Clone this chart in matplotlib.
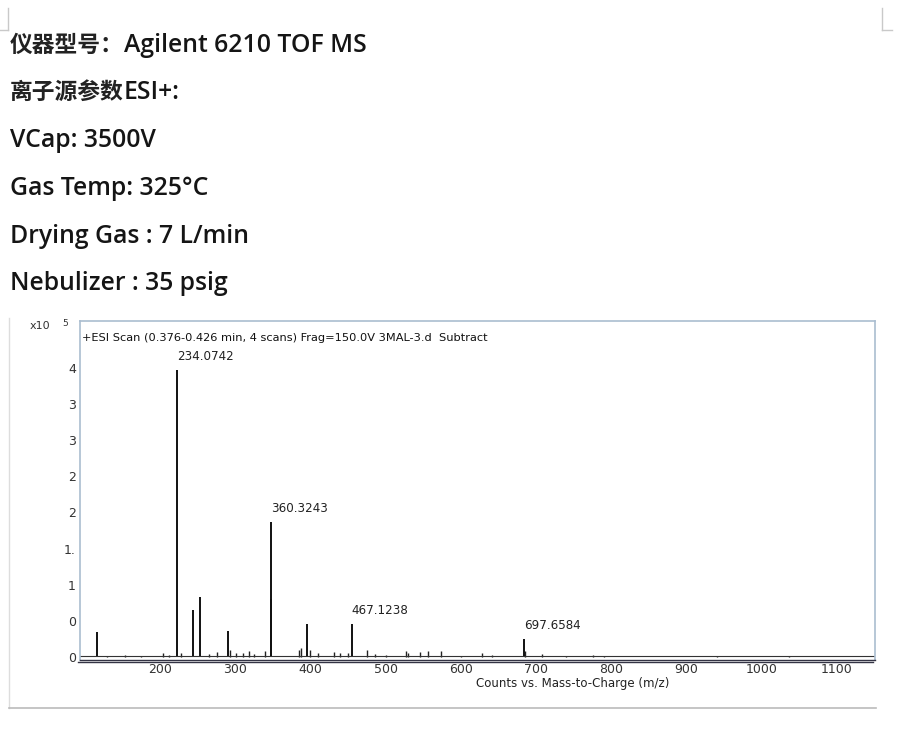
import matplotlib.pyplot as plt
from matplotlib.lines import Line2D

plt.rcParams['font.family'] = ['Noto Sans CJK SC', 'DejaVu Sans']

# header text above the spectrum: (Chinese part, Latin part)
info_cjk = ['仪器型号：', '离子源参数', '', '', '', '']
info_latin = ['Agilent 6210 TOF MS', 'ESI+:', 'VCap: 3500V', 'Gas Temp: 325°C',
              'Drying Gas : 7 L/min', 'Nebulizer : 35 psig']

# spectrum peaks (m/z position on the drawn axis, counts x10^5)
peak_mz = [115.8, 222.2, 244.3, 253.6, 290.4, 347.2, 347.8, 395.1, 455.0, 684.1]
peak_h = [0.35, 3.97, 0.65, 0.83, 0.36, 1.87, 0.80, 0.46, 0.46, 0.25]
small_mz = [130.0, 153.4, 175.0, 204.0, 212.0, 228.0, 265.0, 275.4, 292.5, 301.0, 310.0,
            318.4, 325.0, 339.6, 384.9, 387.0, 399.0, 410.0, 431.4, 439.4, 450.0, 474.9,
            486.0, 500.0, 527.2, 530.0, 545.8, 556.4, 573.3, 600.0, 627.9, 641.5, 686.0,
            707.6, 740.0, 775.9, 790.0, 940.8, 1036.6]
small_h = [0.02, 0.03, 0.02, 0.06, 0.03, 0.05, 0.04, 0.07, 0.10, 0.06, 0.05,
           0.08, 0.04, 0.08, 0.10, 0.12, 0.10, 0.05, 0.07, 0.05, 0.05, 0.10,
           0.04, 0.03, 0.08, 0.05, 0.07, 0.08, 0.08, 0.02, 0.06, 0.03, 0.08,
           0.04, 0.02, 0.03, 0.02, 0.02, 0.02]
label_mz = [222.2, 347.2, 455.0, 684.1]
label_h = [3.97, 1.87, 0.46, 0.25]
label_txt = ['234.0742', '360.3243', '467.1238', '697.6584']

ytick_vals = [0, 0.5, 1, 1.5, 2, 2.5, 3, 3.5, 4]
ytick_txt = ['0', '0', '1', '1.', '2', '2', '3', '3', '4']
xtick_vals = [200, 300, 400, 500, 600, 700, 800, 900, 1000, 1100]

W, H = 900, 743
fig = plt.figure(figsize=(9, 7.43), dpi=100)

for i, (c, t) in enumerate(zip(info_cjk, info_latin)):
    y = 1 - (45 + i * 47.8) / H
    x0 = 10
    if c:
        fig.text(x0 / W, y, c, fontsize=16.4, fontweight='bold',
                 family='Noto Sans CJK SC', color='#222222', va='center', ha='left')
        x0 = 124
    fig.text(x0 / W, y, t, fontsize=17.8, fontweight='semibold',
             family=['Open Sans', 'DejaVu Sans'],
             color='#151515', va='center', ha='left')

# page corner marks and image frame
grey = '#c9c9c9'
fig.add_artist(Line2D([8 / W, 8 / W], [1 - 8 / H, 1 - 30 / H], color=grey, lw=1))
fig.add_artist(Line2D([0, 8 / W], [1 - 30 / H, 1 - 30 / H], color=grey, lw=1))
fig.add_artist(Line2D([882 / W, 882 / W], [1 - 8 / H, 1 - 30 / H], color=grey, lw=1))
fig.add_artist(Line2D([882 / W, 892 / W], [1 - 30 / H, 1 - 30 / H], color=grey, lw=1))
fig.add_artist(Line2D([9 / W, 9 / W], [1 - 318 / H, 1 - 708 / H], color='#dddddd', lw=1))
fig.add_artist(Line2D([9 / W, 876 / W], [1 - 708 / H, 1 - 708 / H], color='#bbbbbb', lw=1.2))

ax = fig.add_axes([80 / W, 1 - 660 / H, 795 / W, 339 / H])
ax.set_xlim(93.6, 1151)
ax.set_ylim(-3 / 72.25, 4.65)

ax.vlines(small_mz, 0, small_h, color='#222222', lw=1.0)
ax.vlines(peak_mz, 0, peak_h, color='#111111', lw=1.4)
ax.axhline(0.012, color='#333333', lw=0.8)

for x, h, s in zip(label_mz, label_h, label_txt):
    ax.text(x, h + 0.1, s, fontsize=8.6, family='DejaVu Sans', color='#222222',
            ha='left', va='bottom')

ax.text(0.003, 0.965, '+ESI Scan (0.376-0.426 min, 4 scans) Frag=150.0V 3MAL-3.d  Subtract',
        transform=ax.transAxes, fontsize=8.2, family='DejaVu Sans', color='#111111',
        ha='left', va='top')

for side in ['left', 'top', 'right']:
    ax.spines[side].set_color('#aabdd0')
    ax.spines[side].set_linewidth(1.2)
ax.spines['bottom'].set_color('#333344')
ax.spines['bottom'].set_linewidth(1.0)
fig.add_artist(Line2D([78 / W, 873 / W], [1 - 662 / H, 1 - 662 / H], color='#333344', lw=1.0))

ax.set_yticks(ytick_vals)
ax.set_yticklabels(ytick_txt)
ax.set_xticks(xtick_vals)
ax.tick_params(axis='y', length=0, pad=3, labelsize=9, labelcolor='#333333')
ax.tick_params(axis='x', length=0, pad=2, labelsize=9, labelcolor='#333333')
for lab in ax.get_xticklabels() + ax.get_yticklabels():
    lab.set_family('DejaVu Sans')

fig.text(30 / W, 1 - 326 / H, 'x10', fontsize=8, family='DejaVu Sans', color='#333333',
         ha='left', va='center')
fig.text(62 / W, 1 - 323 / H, '5', fontsize=6.5, family='DejaVu Sans', color='#333333',
         ha='left', va='center')
fig.text(573 / W, 1 - 684 / H, 'Counts vs. Mass-to-Charge (m/z)', fontsize=8.5,
         family='DejaVu Sans', color='#222222', ha='center', va='center')

fig.savefig('out.png', dpi=100)
